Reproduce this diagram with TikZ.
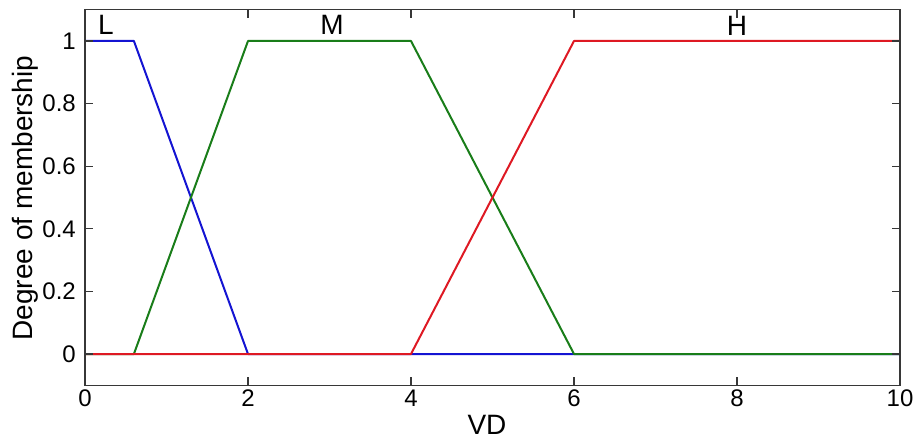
\documentclass[tikz,border=0pt]{standalone}
\usepackage{fontspec}
\setmainfont{Liberation Sans}
\definecolor{mfblue}{RGB}{20,20,210}
\definecolor{mfgreen}{RGB}{25,125,25}
\definecolor{mfred}{RGB}{222,25,35}
\definecolor{axisgray}{RGB}{55,55,55}
\tikzset{
  curve/.style={line width=2pt, line join=round},
  axisline/.style={draw=axisgray, line width=1.1pt},
  ticklbl/.style={inner sep=0pt, font=\fontsize{24}{24}\selectfont},
  axlbl/.style={inner sep=0pt, font=\fontsize{28}{28}\selectfont},
}
\begin{document}
\begin{tikzpicture}[x=1pt,y=1pt]
\useasboundingbox (0,0) rectangle (917,439);
\begin{scope}[shift={(85,85)}, x=81.5pt, y=313pt]
  % membership functions
  \draw[curve, mfblue]  (0,1) -- (0.6,1) -- (2,0) -- (10,0);
  \draw[curve, mfgreen] (0,0) -- (0.6,0) -- (2,1) -- (4,1) -- (6,0) -- (10,0);
  \draw[curve, mfred]   (0,0) -- (4,0) -- (6,1) -- (10,1);
  % axes box
  \draw[axisline] (0,-0.1) rectangle (10,1.1);
  \foreach \v in {0,2,4,6,8,10} {
    \draw[axisline] (\v,-0.1) -- ++(0,8pt);
    \draw[axisline] (\v,1.1) -- ++(0,-8pt);
    \node[ticklbl, anchor=base] (xt\v) at ([yshift=-21pt]\v,-0.1) {\v};
  }
  \foreach \u in {0,0.2,0.4,0.6,0.8,1} {
    \draw[axisline] (0,\u) -- ++(8pt,0);
    \draw[axisline] (10,\u) -- ++(-8pt,0);
    \node[ticklbl, anchor=east] (yt\u) at ([xshift=-9pt]0,\u) {\u};
  }
\end{scope}
% labels
\node[axlbl, anchor=base] (lblL) at (106,404) {L};
\node[axlbl, anchor=base] (lblM) at (332,404) {M};
\node[axlbl, anchor=base] (lblH) at (737,403) {H};
\node[axlbl, anchor=base] (xlabel) at (487,5) {VD};
\node[axlbl, anchor=base, rotate=90] (ylabel) at (32,241) {Degree of membership};
\end{tikzpicture}
\end{document}
